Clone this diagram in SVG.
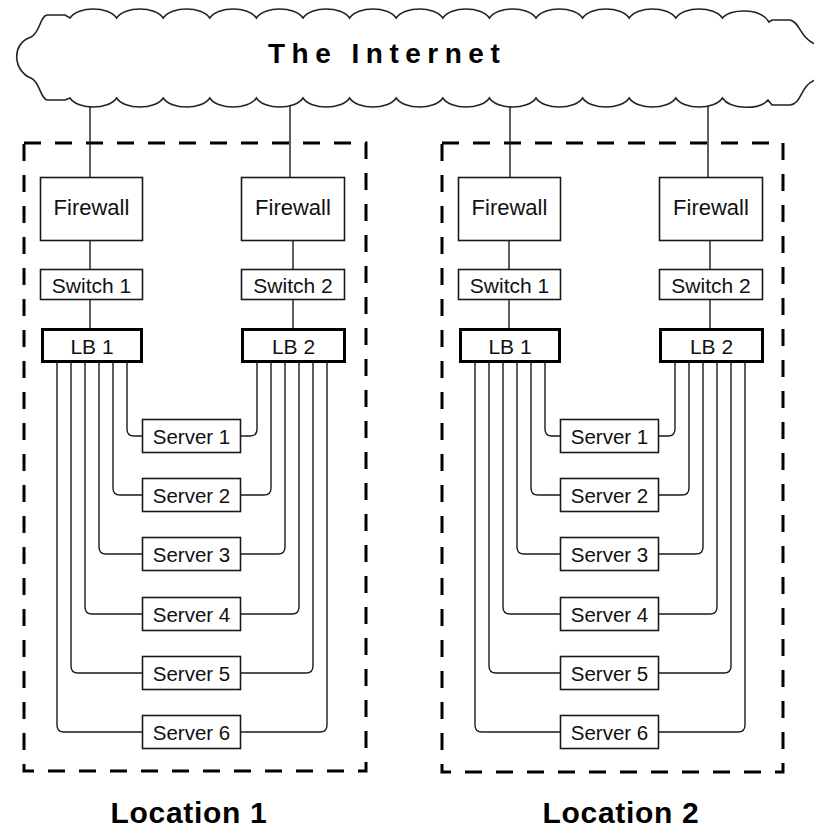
<svg xmlns="http://www.w3.org/2000/svg" width="814" height="829" viewBox="0 0 814 829">
<style>
.box{fill:#fff;stroke:#1a1a1a;stroke-width:1.6}
.lb{fill:#fff;stroke:#000;stroke-width:3}
.loc{fill:none;stroke:#000;stroke-width:3;stroke-dasharray:17 14}
.t{font-family:"Liberation Sans",Arial,sans-serif;fill:#111;text-anchor:middle}
.f{font-size:22px}
.s{font-size:21px}
.v{font-size:20.5px}
.conn path,.conn line{fill:none;stroke:#1a1a1a;stroke-width:1.4}
.big{font-family:"Liberation Sans",Arial,sans-serif;font-weight:bold;fill:#000}
</style>
<rect width="814" height="829" fill="#fff"/>
<g id="internet">
<path fill="#fff" stroke="#222" stroke-width="1.6" d="M70 18 C78 6 108.6 6 116.6 18 C124.6 6 155.2 6 163.2 18 C171.2 6 201.8 6 209.8 18 C217.8 6 248.4 6 256.4 18 C264.4 6 295 6 303 18 C311 6 341.6 6 349.6 18 C357.6 6 388.2 6 396.2 18 C404.2 6 434.8 6 442.8 18 C450.8 6 481.4 6 489.4 18 C497.4 6 528 6 536 18 C544 6 574.6 6 582.6 18 C590.6 6 621.2 6 629.2 18 C637.2 6 667.8 6 675.8 18 C683.8 6 714.4 6 722.4 18 C730.4 8 761 8 769 22 L772 20 H790 C800 22 800 38 815 44 C832 50 832 74 815 80 C800 86 802 104 790 105 H772 L768 100 C760 110 730.4 110 722.4 98 C714.4 110 683.8 110 675.8 98 C667.8 110 637.2 110 629.2 98 C621.2 110 590.6 110 582.6 98 C574.6 110 544 110 536 98 C528 110 497.4 110 489.4 98 C481.4 110 450.8 110 442.8 98 C434.8 110 404.2 110 396.2 98 C388.2 110 357.6 110 349.6 98 C341.6 110 311 110 303 98 C295 110 264.4 110 256.4 98 C248.4 110 217.8 110 209.8 98 C201.8 110 171.2 110 163.2 98 C155.2 110 124.6 110 116.6 98 C108.6 110 78 110 70 98 L65 100 H47 C40 98 40 82 31 78 C14 72 10 44 31 37 C40 33 40 16 47 15 H65 Z"/>
<text class="big" x="268" y="63" font-size="28" letter-spacing="6.5">The  Internet</text>
</g>

<g id="location1">
<rect class="loc" x="24" y="143" width="342" height="628"/>
<text class="big" x="189" y="823" font-size="30" letter-spacing="0.7" text-anchor="middle">Location 1</text>
</g>
<g id="location2">
<rect class="loc" x="442" y="143" width="341" height="629"/>
<text class="big" x="621" y="823" font-size="30" letter-spacing="0.7" text-anchor="middle">Location 2</text>
</g>

<g class="conn" id="connectors">
<line x1="90" y1="106" x2="90" y2="177"/>
<line x1="290" y1="106" x2="290" y2="177"/>
<line x1="510" y1="106" x2="510" y2="177"/>
<line x1="708" y1="106" x2="708" y2="177"/>
<line x1="90" y1="241" x2="90" y2="269"/>
<line x1="90" y1="300" x2="90" y2="328"/>
<line x1="293" y1="241" x2="293" y2="269"/>
<line x1="293" y1="300" x2="293" y2="328"/>
<line x1="509" y1="241" x2="509" y2="269"/>
<line x1="509" y1="300" x2="509" y2="328"/>
<line x1="710" y1="241" x2="710" y2="269"/>
<line x1="710" y1="300" x2="710" y2="328"/>
<path d="M127 363 V429 Q127 436 134 436 H142"/>
<path d="M113 363 V488 Q113 495 120 495 H142"/>
<path d="M99 363 V547 Q99 554 106 554 H142"/>
<path d="M85 363 V607 Q85 614 92 614 H142"/>
<path d="M71 363 V666 Q71 673 78 673 H142"/>
<path d="M57 363 V725 Q57 732 64 732 H142"/>
<path d="M241 436 H250 Q257 436 257 429 V363"/>
<path d="M241 495 H264 Q271 495 271 488 V363"/>
<path d="M241 554 H278 Q285 554 285 547 V363"/>
<path d="M241 614 H292 Q299 614 299 607 V363"/>
<path d="M241 673 H306 Q313 673 313 666 V363"/>
<path d="M241 732 H320 Q327 732 327 725 V363"/>
<path d="M545 363 V429 Q545 436 552 436 H560"/>
<path d="M531 363 V488 Q531 495 538 495 H560"/>
<path d="M517 363 V547 Q517 554 524 554 H560"/>
<path d="M503 363 V607 Q503 614 510 614 H560"/>
<path d="M489 363 V666 Q489 673 496 673 H560"/>
<path d="M475 363 V725 Q475 732 482 732 H560"/>
<path d="M659 436 H668 Q675 436 675 429 V363"/>
<path d="M659 495 H682 Q689 495 689 488 V363"/>
<path d="M659 554 H696 Q703 554 703 547 V363"/>
<path d="M659 614 H710 Q717 614 717 607 V363"/>
<path d="M659 673 H724 Q731 673 731 666 V363"/>
<path d="M659 732 H738 Q745 732 745 725 V363"/>
</g>

<!-- Location 1 nodes -->
<g id="l1-fw1"><rect class="box" x="40.5" y="177.5" width="102" height="63"/><text class="t f" x="91.5" y="215">Firewall</text></g>
<g id="l1-fw2"><rect class="box" x="241.5" y="177.5" width="103" height="63"/><text class="t f" x="293" y="215">Firewall</text></g>
<g id="l1-sw1"><rect class="box" x="40.5" y="269.5" width="102" height="30"/><text class="t s" x="91.5" y="293">Switch 1</text></g>
<g id="l1-sw2"><rect class="box" x="241.5" y="269.5" width="103" height="30"/><text class="t s" x="293" y="293">Switch 2</text></g>
<g id="l1-lb1"><rect class="lb" x="42.5" y="329.5" width="99" height="32"/><text class="t s" x="92" y="354">LB 1</text></g>
<g id="l1-lb2"><rect class="lb" x="242.5" y="329.5" width="102" height="32"/><text class="t s" x="293.5" y="354">LB 2</text></g>
<g id="l1-s1"><rect class="box" x="142.5" y="419.5" width="98" height="33"/><text class="t v" x="191.5" y="444">Server 1</text></g>
<g id="l1-s2"><rect class="box" x="142.5" y="478.5" width="98" height="33"/><text class="t v" x="191.5" y="503">Server 2</text></g>
<g id="l1-s3"><rect class="box" x="142.5" y="537.5" width="98" height="33"/><text class="t v" x="191.5" y="562">Server 3</text></g>
<g id="l1-s4"><rect class="box" x="142.5" y="597.5" width="98" height="33"/><text class="t v" x="191.5" y="622">Server 4</text></g>
<g id="l1-s5"><rect class="box" x="142.5" y="656.5" width="98" height="33"/><text class="t v" x="191.5" y="681">Server 5</text></g>
<g id="l1-s6"><rect class="box" x="142.5" y="715.5" width="98" height="33"/><text class="t v" x="191.5" y="740">Server 6</text></g>

<!-- Location 2 nodes -->
<g id="l2-fw1"><rect class="box" x="458.5" y="177.5" width="102" height="63"/><text class="t f" x="509.5" y="215">Firewall</text></g>
<g id="l2-fw2"><rect class="box" x="659.5" y="177.5" width="103" height="63"/><text class="t f" x="711" y="215">Firewall</text></g>
<g id="l2-sw1"><rect class="box" x="458.5" y="269.5" width="102" height="30"/><text class="t s" x="509.5" y="293">Switch 1</text></g>
<g id="l2-sw2"><rect class="box" x="659.5" y="269.5" width="103" height="30"/><text class="t s" x="711" y="293">Switch 2</text></g>
<g id="l2-lb1"><rect class="lb" x="460.5" y="329.5" width="99" height="32"/><text class="t s" x="510" y="354">LB 1</text></g>
<g id="l2-lb2"><rect class="lb" x="660.5" y="329.5" width="102" height="32"/><text class="t s" x="711.5" y="354">LB 2</text></g>
<g id="l2-s1"><rect class="box" x="560.5" y="419.5" width="98" height="33"/><text class="t v" x="609.5" y="444">Server 1</text></g>
<g id="l2-s2"><rect class="box" x="560.5" y="478.5" width="98" height="33"/><text class="t v" x="609.5" y="503">Server 2</text></g>
<g id="l2-s3"><rect class="box" x="560.5" y="537.5" width="98" height="33"/><text class="t v" x="609.5" y="562">Server 3</text></g>
<g id="l2-s4"><rect class="box" x="560.5" y="597.5" width="98" height="33"/><text class="t v" x="609.5" y="622">Server 4</text></g>
<g id="l2-s5"><rect class="box" x="560.5" y="656.5" width="98" height="33"/><text class="t v" x="609.5" y="681">Server 5</text></g>
<g id="l2-s6"><rect class="box" x="560.5" y="715.5" width="98" height="33"/><text class="t v" x="609.5" y="740">Server 6</text></g>
</svg>
